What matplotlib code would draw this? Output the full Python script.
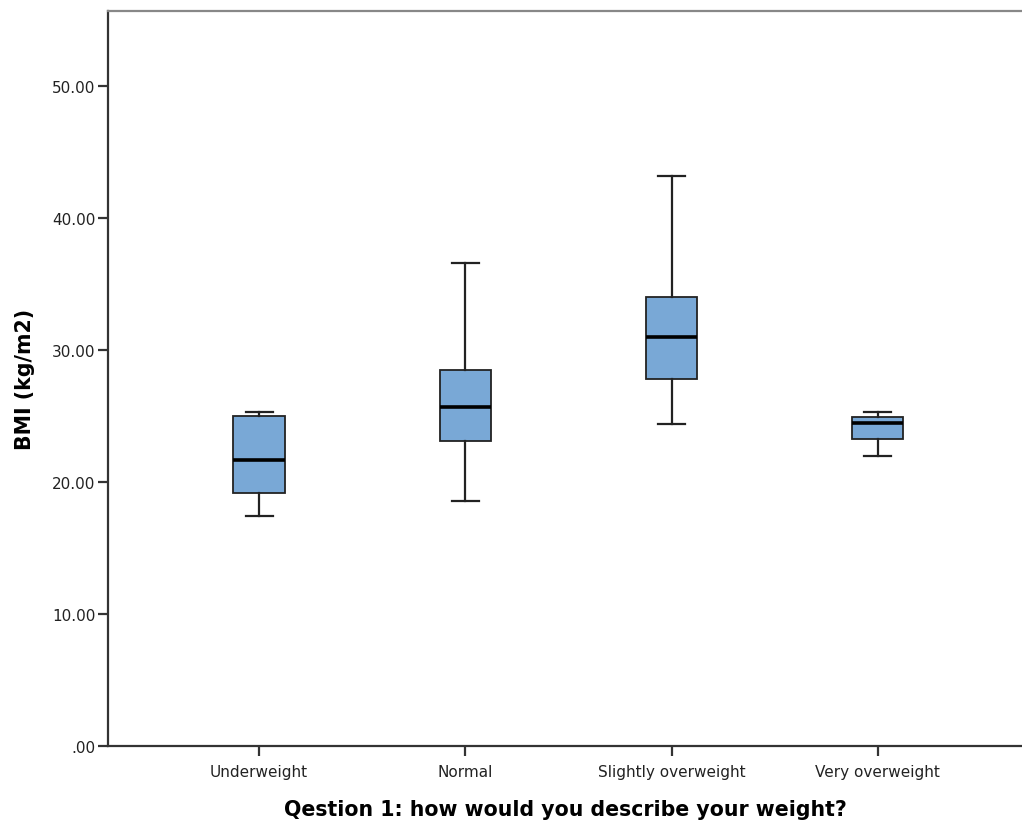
import matplotlib.pyplot as plt

# five-number summaries
categories = ['Underweight', 'Normal', 'Slightly overweight', 'Very overweight']
whisker_low = [17.4, 18.6, 24.4, 22.0]
q1 = [19.2, 23.1, 27.8, 23.3]
median = [21.7, 25.7, 31.0, 24.5]
q3 = [25.0, 28.5, 34.0, 24.9]
whisker_high = [25.3, 36.6, 43.2, 25.3]

yticks = [0, 10, 20, 30, 40, 50]
ytick_labels = ['.00', '10.00', '20.00', '30.00', '40.00', '50.00']

plt.rcParams['font.family'] = ['DejaVu Sans']

stats = []
for i, name in enumerate(categories):
  stats.append({'label': name, 'whislo': whisker_low[i], 'q1': q1[i],
                'med': median[i], 'q3': q3[i], 'whishi': whisker_high[i],
                'fliers': []})

fig = plt.figure(figsize=(10.22, 8.28), dpi=100)
ax = fig.add_axes([0.1057, 0.0978, 0.8943, 0.8877])

positions = list(range(1, len(categories) + 1))
ax.bxp(stats, positions=positions, widths=0.25, patch_artist=True,
       showfliers=False,
       boxprops=dict(facecolor='#79a8d6', edgecolor='#222222', linewidth=1.3),
       medianprops=dict(color='black', linewidth=2.6),
       whiskerprops=dict(color='#222222', linewidth=1.6),
       capprops=dict(color='#222222', linewidth=1.6),
       capwidths=0.13)

ax.set_xlim(0.267, 4.70)
ax.set_ylim(0, 55.7)
ax.set_yticks(yticks)
ax.set_yticklabels(ytick_labels)
ax.set_xticks(positions)
ax.set_xticklabels(categories)
ax.tick_params(axis='both', labelsize=11, length=7, width=1.6, color='#333333',
               labelcolor='#222222')
ax.tick_params(axis='x', pad=6)
ax.tick_params(axis='y', pad=2)

ax.spines['right'].set_visible(False)
ax.spines['left'].set_color('#333333')
ax.spines['left'].set_linewidth(1.6)
ax.spines['bottom'].set_color('#333333')
ax.spines['bottom'].set_linewidth(1.6)
ax.spines['top'].set_color('#888888')
ax.spines['top'].set_linewidth(1.6)

ax.set_ylabel('BMI (kg/m2)', fontsize=14.8, fontweight='bold', labelpad=12)
ax.set_xlabel('Qestion 1: how would you describe your weight?', fontsize=14.8,
              fontweight='bold', labelpad=14)

fig.savefig('out.png', dpi=100)
